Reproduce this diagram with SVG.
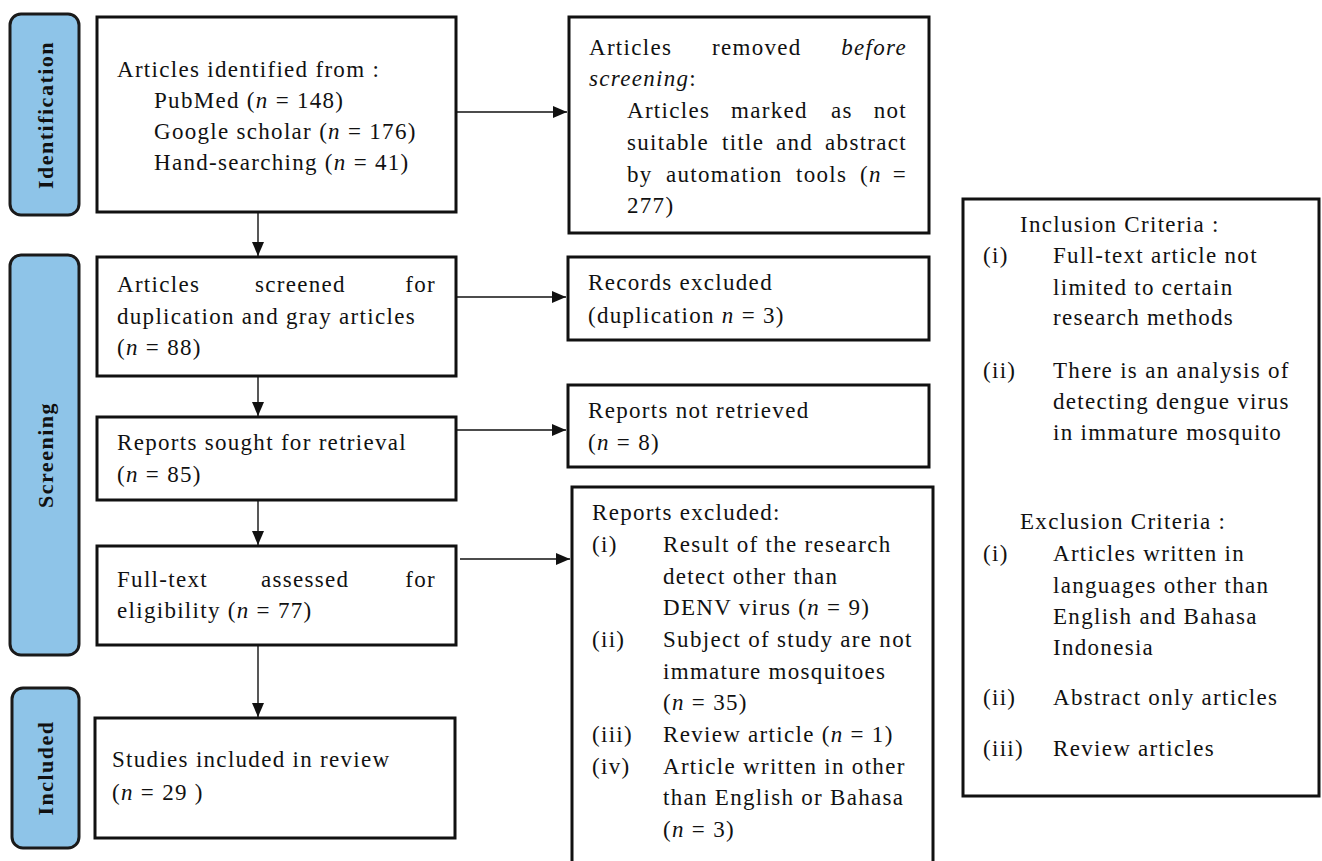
<svg xmlns="http://www.w3.org/2000/svg" width="1322" height="861" viewBox="0 0 1322 861">
<defs>
<style>
.bar{fill:#8ec4e8;stroke:#1a1a1a;stroke-width:3}
.box{fill:#fff;stroke:#111;stroke-width:3}
.t{font-family:"Liberation Serif","Times New Roman",serif;font-size:23px;letter-spacing:1.3px;fill:#111}
.lab{font-family:"Liberation Serif","Times New Roman",serif;font-size:22px;font-weight:bold;letter-spacing:1.5px;fill:#111}
.i{font-style:italic}
.c{stroke:#111;stroke-width:1.4;fill:none}
</style>
<marker id="ah" markerUnits="userSpaceOnUse" markerWidth="14" markerHeight="12" refX="14" refY="6" orient="auto">
<path d="M0,0 L14,6 L0,12 z" fill="#111"/>
</marker>
</defs>
<rect width="1322" height="861" fill="#fff"/>

<g id="stage-identification">
<rect class="bar" x="10" y="14" width="69" height="201" rx="11"/>
<text class="lab" x="53" y="115" text-anchor="middle" transform="rotate(-90 53 115)">Identification</text>
</g>
<g id="stage-screening">
<rect class="bar" x="10" y="255" width="69" height="400" rx="11"/>
<text class="lab" x="53" y="455" text-anchor="middle" transform="rotate(-90 53 455)">Screening</text>
</g>
<g id="stage-included">
<rect class="bar" x="12" y="688" width="67" height="160" rx="11"/>
<text class="lab" x="53" y="768" text-anchor="middle" transform="rotate(-90 53 768)">Included</text>
</g>

<g id="identified">
<rect class="box" x="97" y="17" width="359" height="195"/>
<text class="t" x="117" y="77">Articles identified from :</text>
<text class="t" x="154" y="108">PubMed (<tspan class="i">n</tspan> = 148)</text>
<text class="t" x="154" y="139">Google scholar (<tspan class="i">n</tspan> = 176)</text>
<text class="t" x="154" y="170">Hand-searching (<tspan class="i">n</tspan> = 41)</text>
</g>

<g id="removed">
<rect class="box" x="569" y="17" width="360" height="216"/>
<text class="t" y="55"><tspan x="589">Articles</tspan><tspan x="712">removed</tspan><tspan x="907" text-anchor="end" class="i">before</tspan></text>
<text class="t" x="589" y="86"><tspan class="i">screening</tspan>:</text>
<text class="t" y="118"><tspan x="627">Articles</tspan><tspan x="731">marked</tspan><tspan x="831">as</tspan><tspan x="907" text-anchor="end">not</tspan></text>
<text class="t" y="150"><tspan x="627">suitable</tspan><tspan x="722">title</tspan><tspan x="776">and</tspan><tspan x="907" text-anchor="end">abstract</tspan></text>
<text class="t" y="182"><tspan x="627">by</tspan><tspan x="666">automation</tspan><tspan x="796">tools</tspan><tspan x="860">(<tspan class="i">n</tspan></tspan><tspan x="907" text-anchor="end">=</tspan></text>
<text class="t" x="627" y="213">277)</text>
</g>

<g id="screened">
<rect class="box" x="97" y="257" width="359" height="119"/>
<text class="t" y="292"><tspan x="117">Articles</tspan><tspan x="255">screened</tspan><tspan x="436" text-anchor="end">for</tspan></text>
<text class="t" x="117" y="324">duplication and gray articles</text>
<text class="t" x="117" y="355">(<tspan class="i">n</tspan> = 88)</text>
</g>

<g id="records-excluded">
<rect class="box" x="568" y="257" width="361" height="83"/>
<text class="t" x="588" y="290">Records excluded</text>
<text class="t" x="588" y="323">(duplication <tspan class="i">n</tspan> = 3)</text>
</g>

<g id="sought">
<rect class="box" x="97" y="417" width="359" height="83"/>
<text class="t" x="117" y="450">Reports sought for retrieval</text>
<text class="t" x="117" y="482">(<tspan class="i">n</tspan> = 85)</text>
</g>

<g id="not-retrieved">
<rect class="box" x="568" y="385" width="361" height="82"/>
<text class="t" x="588" y="418">Reports not retrieved</text>
<text class="t" x="588" y="450">(<tspan class="i">n</tspan> = 8)</text>
</g>

<g id="assessed">
<rect class="box" x="97" y="546" width="359" height="99"/>
<text class="t" y="587"><tspan x="117">Full-text</tspan><tspan x="261">assessed</tspan><tspan x="436" text-anchor="end">for</tspan></text>
<text class="t" x="117" y="618">eligibility (<tspan class="i">n</tspan> = 77)</text>
</g>

<g id="reports-excluded">
<rect class="box" x="572" y="487" width="361" height="390"/>
<text class="t" x="592" y="520">Reports excluded:</text>
<text class="t" x="592" y="552">(i)</text>
<text class="t" x="663" y="552">Result of the research</text>
<text class="t" x="663" y="584">detect other than</text>
<text class="t" x="663" y="615">DENV virus (<tspan class="i">n</tspan> = 9)</text>
<text class="t" x="592" y="647">(ii)</text>
<text class="t" x="663" y="647">Subject of study are not</text>
<text class="t" x="663" y="679">immature mosquitoes</text>
<text class="t" x="663" y="710">(<tspan class="i">n</tspan> = 35)</text>
<text class="t" x="592" y="742">(iii)</text>
<text class="t" x="663" y="742">Review article (<tspan class="i">n</tspan> = 1)</text>
<text class="t" x="592" y="774">(iv)</text>
<text class="t" x="663" y="774">Article written in other</text>
<text class="t" x="663" y="805">than English or Bahasa</text>
<text class="t" x="663" y="837">(<tspan class="i">n</tspan> = 3)</text>
</g>

<g id="included">
<rect class="box" x="95" y="718" width="360" height="120"/>
<text class="t" x="112" y="767">Studies included in review</text>
<text class="t" x="112" y="800">(<tspan class="i">n</tspan> = 29 )</text>
</g>

<g id="criteria">
<rect class="box" x="963" y="199" width="356" height="597"/>
<text class="t" x="1020" y="232">Inclusion Criteria :</text>
<text class="t" x="983" y="263">(i)</text>
<text class="t" x="1053" y="263">Full-text article not</text>
<text class="t" x="1053" y="295">limited to certain</text>
<text class="t" x="1053" y="325">research methods</text>
<text class="t" x="983" y="378">(ii)</text>
<text class="t" x="1053" y="378">There is an analysis of</text>
<text class="t" x="1053" y="409">detecting dengue virus</text>
<text class="t" x="1053" y="440">in immature mosquito</text>
<text class="t" x="1020" y="529">Exclusion Criteria :</text>
<text class="t" x="983" y="561">(i)</text>
<text class="t" x="1053" y="561">Articles written in</text>
<text class="t" x="1053" y="593">languages other than</text>
<text class="t" x="1053" y="624">English and Bahasa</text>
<text class="t" x="1053" y="655">Indonesia</text>
<text class="t" x="983" y="705">(ii)</text>
<text class="t" x="1053" y="705">Abstract only articles</text>
<text class="t" x="983" y="756">(iii)</text>
<text class="t" x="1053" y="756">Review articles</text>
</g>

<g id="connectors">
<line class="c" x1="456" y1="112" x2="567" y2="112" marker-end="url(#ah)"/>
<line class="c" x1="456" y1="297" x2="566" y2="297" marker-end="url(#ah)"/>
<line class="c" x1="456" y1="430" x2="566" y2="430" marker-end="url(#ah)"/>
<line class="c" x1="460" y1="559" x2="570" y2="559" marker-end="url(#ah)"/>
<line class="c" x1="258" y1="212" x2="258" y2="256" marker-end="url(#ah)"/>
<line class="c" x1="258" y1="376" x2="258" y2="416" marker-end="url(#ah)"/>
<line class="c" x1="258" y1="500" x2="258" y2="545" marker-end="url(#ah)"/>
<line class="c" x1="258" y1="645" x2="258" y2="717" marker-end="url(#ah)"/>
</g>
</svg>
